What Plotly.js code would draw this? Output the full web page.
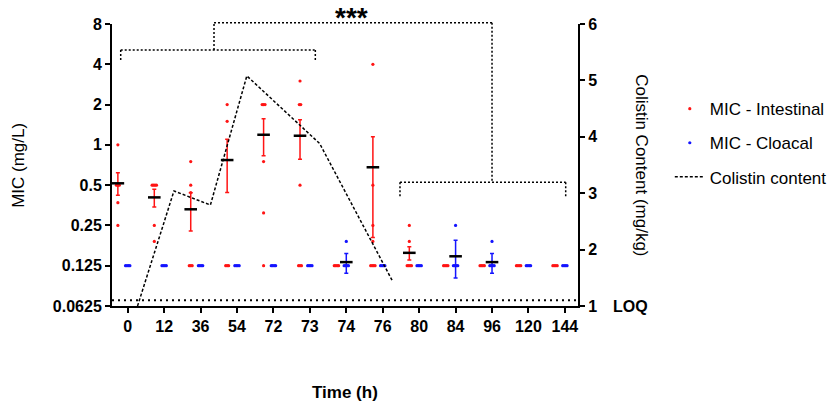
<!DOCTYPE html>
<html>
<head>
<meta charset="utf-8">
<script src="https://cdn.plot.ly/plotly-3.0.1.min.js"></script>
<style>
html, body { margin: 0; padding: 0; background: #fff; }
#chart { width: 829px; height: 403px; }
</style>
</head>
<body>
<div id="chart"></div>
<script>
const times = ['0', '12', '36', '54', '72', '73', '74', '76', '80', '84', '96', '120', '144'];

// individual MIC values (mg/L), one list per time point
const intestinal = [
  [1, 0.5, 0.5, 0.5, 0.37, 0.25],
  [0.5, 0.5, 0.5, 0.5, 0.25, 0.19],
  [0.75, 0.5, 0.44, 0.125, 0.125, 0.125],
  [2, 1.5, 0.125, 0.125, 0.125],
  [2, 2, 2, 0.75, 0.31, 0.125],
  [3, 2, 2, 0.5, 0.125, 0.125, 0.125],
  [0.125, 0.125, 0.125, 0.125],
  [4, 0.5, 0.25, 0.19, 0.125, 0.125, 0.125, 0.125],
  [0.25, 0.19, 0.125, 0.125, 0.125, 0.125],
  [0.125, 0.125, 0.125, 0.125],
  [0.125, 0.125, 0.125, 0.125],
  [0.125, 0.125, 0.125, 0.125],
  [0.125, 0.125, 0.125, 0.125]
];
const cloacal = [
  [0.125, 0.125, 0.125, 0.125],
  [0.125, 0.125, 0.125, 0.125],
  [0.125, 0.125, 0.125, 0.125],
  [0.125, 0.125, 0.125, 0.125],
  [0.125, 0.125, 0.125, 0.125],
  [0.125, 0.125, 0.125, 0.125],
  [0.19, 0.125, 0.125, 0.125, 0.125],
  [0.125, 0.125, 0.125, 0.125],
  [0.125, 0.125, 0.125, 0.125],
  [0.25, 0.125, 0.125, 0.125, 0.125],
  [0.19, 0.125, 0.125, 0.125, 0.125],
  [0.125, 0.125, 0.125, 0.125],
  [0.125, 0.125, 0.125, 0.125]
];

// mean and SEM limits as drawn
const intMean = [0.516, 0.405, 0.33, 0.77, 1.19, 1.17, null, 0.68, 0.156, null, null, null, null];
const intHigh = [0.62, 0.465, 0.438, 1.10, 1.57, 1.54, null, 1.15, 0.173, null, null, null, null];
const intLow  = [0.42, 0.344, 0.227, 0.44, 0.83, 0.78, null, 0.203, 0.138, null, null, null, null];
const cloMean = [null, null, null, null, null, null, 0.133, null, null, 0.147, 0.133, null, null];
const cloHigh = [null, null, null, null, null, null, 0.154, null, null, 0.194, 0.154, null, null];
const cloLow  = [null, null, null, null, null, null, 0.110, null, null, 0.101, 0.110, null, null];

// colistin content (mg/kg)
const colistinTimes = ['0', '12', '36', '54', '73', '76'];
const colistin = [1.0, 3.04, 2.79, 5.08, 3.88, 1.44];
const loq = 1.1;

const micTicks = [0.0625, 0.125, 0.25, 0.5, 1, 2, 4, 8];
const micLabels = ['0.0625', '0.125', '0.25', '0.5', '1', '2', '4', '8'];

const FONT = 'Liberation Sans, Arial, sans-serif';
const RED = '#ff1414';
const BLUE = '#1414ff';

// spread equal values side by side, like a column scatter
function swarm(groups, offset) {
  const xs = [], ys = [];
  groups.forEach((vals, i) => {
    const counts = {};
    vals.forEach(v => { counts[v] = (counts[v] || 0) + 1; });
    const seen = {};
    vals.forEach(v => {
      const k = counts[v];
      const j = seen[v] || 0;
      seen[v] = j + 1;
      xs.push(i + offset + (j - (k - 1) / 2) * 0.04);
      ys.push(v);
    });
  });
  return {x: xs, y: ys};
}

function meanTrace(mean, hi, lo, offset, color) {
  const x = [], y = [], up = [], down = [];
  mean.forEach((m, i) => {
    if (m === null) return;
    x.push(i + offset); y.push(m);
    up.push(hi[i] - m); down.push(m - lo[i]);
  });
  return {
    x: x, y: y, type: 'scatter', mode: 'markers', showlegend: false, hoverinfo: 'skip',
    marker: {symbol: 'line-ew', size: 9, color: '#000', line: {color: '#000', width: 2.5}},
    error_y: {type: 'data', symmetric: false, array: up, arrayminus: down,
              color: color, thickness: 1.5, width: 2}
  };
}

const redPts = swarm(intestinal, -0.27);
const bluePts = swarm(cloacal, 0);

const data = [
  {
    x: redPts.x, y: redPts.y, type: 'scatter', mode: 'markers', name: 'MIC - Intestinal',
    legendgroup: 'a', marker: {color: RED, size: 3.2}
  },
  {
    x: bluePts.x, y: bluePts.y, type: 'scatter', mode: 'markers', name: 'MIC - Cloacal',
    legendgroup: 'b', marker: {color: BLUE, size: 3.2}
  },
  meanTrace(intMean, intHigh, intLow, -0.27, RED),
  meanTrace(cloMean, cloHigh, cloLow, 0, BLUE),
  {
    x: colistinTimes.map(t => times.indexOf(t) + 0.27), y: colistin, yaxis: 'y2',
    type: 'scatter', mode: 'lines', name: 'Colistin content', legendgroup: 'c',
    line: {color: '#000', width: 1.5, dash: '3px,2px'}
  }
];

const dotted = {color: '#000', width: 1.5, dash: '2px,2px'};
function seg(x0, y0, x1, y1, line) {
  return {type: 'line', xref: 'paper', yref: 'paper', x0: x0, y0: y0, x1: x1, y1: y1, line: line || dotted};
}

const layout = {
  width: 829, height: 403,
  margin: {l: 112, r: 251, t: 24, b: 97, autoexpand: false},
  paper_bgcolor: '#fff', plot_bgcolor: '#fff',
  font: {family: FONT, color: '#000', size: 16},
  showlegend: true,
  legend: {
    x: 1.197, y: 0.762, xanchor: 'left', yanchor: 'top',
    font: {family: FONT, size: 17, color: '#000'},
    traceorder: 'grouped', tracegroupgap: 9, bgcolor: 'rgba(0,0,0,0)'
  },
  xaxis: {
    range: [-0.431, 12.36], tickmode: 'array', tickvals: times.map((t, i) => i), ticktext: times,
    showgrid: false, zeroline: false, showline: true, linecolor: '#000', linewidth: 2,
    ticks: 'outside', ticklen: 5, tickwidth: 2, tickcolor: '#000',
    tickfont: {family: FONT, size: 16, weight: 'bold'}
  },
  yaxis: {
    type: 'log', range: [Math.log10(0.0625), Math.log10(8)],
    tickmode: 'array', tickvals: micTicks, ticktext: micLabels,
    showgrid: false, zeroline: false, showline: true, linecolor: '#000', linewidth: 2,
    ticks: 'outside', ticklen: 5, tickwidth: 2, tickcolor: '#000',
    tickfont: {family: FONT, size: 16, weight: 'bold'}
  },
  yaxis2: {
    overlaying: 'y', side: 'right', range: [1, 6], dtick: 1, tick0: 1,
    showgrid: false, zeroline: false, showline: true, linecolor: '#000', linewidth: 2,
    ticks: 'outside', ticklen: 5, tickwidth: 2, tickcolor: '#000',
    tickfont: {family: FONT, size: 16, weight: 'bold'}
  },
  shapes: [
    {type: 'line', xref: 'paper', yref: 'y2', x0: 0, x1: 1, y0: loq, y1: loq,
     line: {color: '#000', width: 2, dash: '2px,4px'}},
    // 0-73 bracket
    seg(0.0187, 0.908, 0.4363, 0.908),
    seg(0.0187, 0.908, 0.0187, 0.872),
    seg(0.4363, 0.908, 0.4363, 0.872),
    // 80-144 bracket
    seg(0.618, 0.4387, 0.9736, 0.4387),
    seg(0.618, 0.4387, 0.618, 0.388),
    seg(0.9736, 0.4387, 0.9736, 0.388),
    // joining bracket
    seg(0.2189, 0.908, 0.2189, 1.0046),
    seg(0.2189, 1.0046, 0.8155, 1.0046),
    seg(0.8155, 1.0046, 0.8155, 0.4387)
  ],
  annotations: [
    {text: '***', xref: 'paper', yref: 'paper', x: 0.5150, y: 1.0851, showarrow: false,
     xanchor: 'center', yanchor: 'top', font: {size: 28, weight: 'bold'}},
    {text: 'LOQ', xref: 'paper', yref: 'paper', x: 1.071, y: 0, showarrow: false,
     xanchor: 'left', yanchor: 'middle', font: {size: 16, weight: 'bold'}},
    {text: 'MIC (mg/L)', xref: 'paper', yref: 'paper', x: -0.202, y: 0.5, showarrow: false,
     xanchor: 'center', yanchor: 'middle', textangle: -90, font: {size: 17}},
    {text: 'Colistin Content (mg/kg)', xref: 'paper', yref: 'paper', x: 1.137, y: 0.5, showarrow: false,
     xanchor: 'center', yanchor: 'middle', textangle: 90, font: {size: 17}},
    {text: 'Time (h)', xref: 'paper', yref: 'paper', x: 0.5, y: -0.307, showarrow: false,
     xanchor: 'center', yanchor: 'middle', font: {size: 17, weight: 'bold'}}
  ]
};

Plotly.newPlot('chart', data, layout, {displayModeBar: false, staticPlot: true});
</script>
</body>
</html>
